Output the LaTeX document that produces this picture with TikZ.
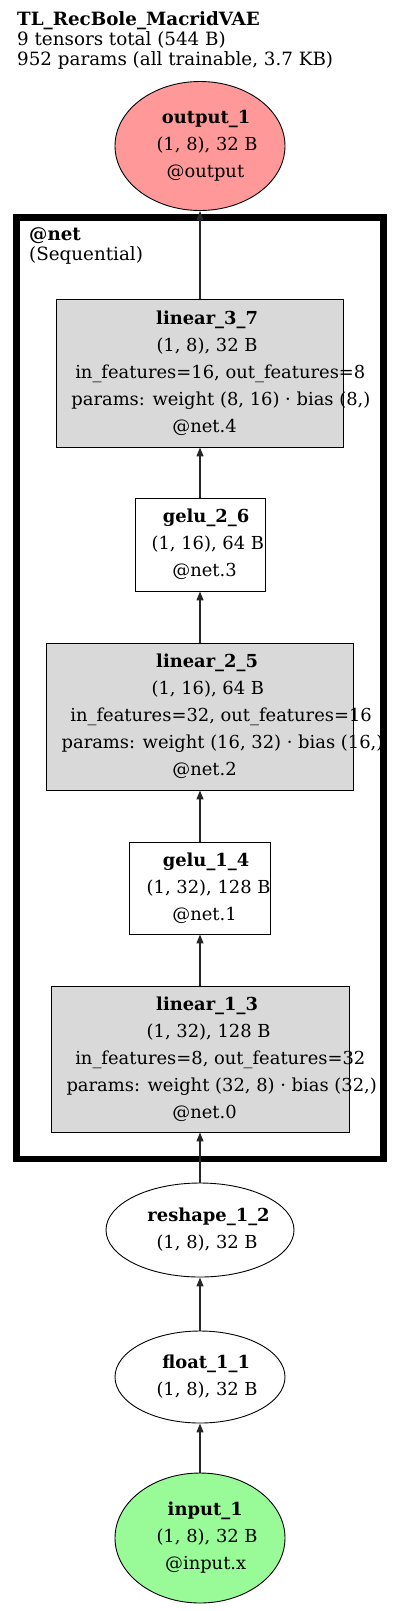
\documentclass[tikz,border=0pt]{standalone}
\usepackage{fontspec}
\setmainfont{DejaVu Serif}
\usetikzlibrary{shapes.geometric,arrows.meta}
\newcommand\gl[1]{\makebox[0.86\width][l]{#1}}
\definecolor{outred}{HTML}{FF9999}
\definecolor{ingreen}{HTML}{98FB98}
\definecolor{lingray}{HTML}{D9D9D9}
\begin{document}
\begin{tikzpicture}[x=1pt,y=-1pt,
  nodefont/.style={font=\fontsize{17.9}{27}\selectfont, align=center, inner sep=0pt},
  gvbox/.style={nodefont, rectangle, draw=black, line width=0.9pt},
  gvell/.style={nodefont, ellipse, draw=black, line width=0.9pt},
  linbox/.style={gvbox, fill=lingray},
  titletext/.style={anchor=base west, inner sep=0pt, font=\fontsize{18.3}{20}\selectfont},
  gvedge/.style={draw=black!85, line width=1.3pt, -{Triangle[length=9pt,width=7pt]}}
]
\useasboundingbox (0,0) rectangle (400,1611);
% title
\node[titletext] (t1) at (17,26) {\textbf{TL\_RecBole\_MacridVAE}};
\node[titletext] (t2) at (17,46) {9 tensors total (544 B)};
\node[titletext] (t3) at (17,66) {952 params (all trainable, 3.7 KB)};
% cluster
\node[draw=black, line width=6.5pt, minimum width=367pt, minimum height=941.5pt, inner sep=0pt] (net) at (200,688.25) {};
\node[titletext] (netl1) at (29,240) {\textbf{@net}};
\node[titletext] (netl2) at (29,260) {(Sequential)};
% nodes
\node[gvell, fill=outred, minimum width=170pt, minimum height=129pt] (out) at (200,146)
  {\gl{\textbf{output\_1}}\\\gl{(1, 8), 32 B}\\\gl{@output}};
\node[linbox, minimum width=287pt, minimum height=148pt] (l37) at (200,373)
  {\gl{\textbf{linear\_3\_7}}\\\gl{(1, 8), 32 B}\\\gl{in\_features=16, out\_features=8}\\\gl{params: weight (8, 16) · bias (8,)}\\\gl{@net.4}};
\node[gvbox, fill=white, minimum width=130pt, minimum height=93pt] (g26) at (200,544.5)
  {\gl{\textbf{gelu\_2\_6}}\\\gl{(1, 16), 64 B}\\\gl{@net.3}};
\node[linbox, minimum width=307pt, minimum height=147pt] (l25) at (200,716.5)
  {\gl{\textbf{linear\_2\_5}}\\\gl{(1, 16), 64 B}\\\gl{in\_features=32, out\_features=16}\\\gl{params: weight (16, 32) · bias (16,)}\\\gl{@net.2}};
\node[gvbox, fill=white, minimum width=141pt, minimum height=92pt] (g14) at (200,888)
  {\gl{\textbf{gelu\_1\_4}}\\\gl{(1, 32), 128 B}\\\gl{@net.1}};
\node[linbox, minimum width=298pt, minimum height=146pt] (l13) at (200,1059)
  {\gl{\textbf{linear\_1\_3}}\\\gl{(1, 32), 128 B}\\\gl{in\_features=8, out\_features=32}\\\gl{params: weight (32, 8) · bias (32,)}\\\gl{@net.0}};
\node[gvell, fill=white, minimum width=188pt, minimum height=94pt] (r12) at (200,1230)
  {\gl{\textbf{reshape\_1\_2}}\\\gl{(1, 8), 32 B}};
\node[gvell, fill=white, minimum width=170pt, minimum height=92pt] (f11) at (200,1377)
  {\gl{\textbf{float\_1\_1}}\\\gl{(1, 8), 32 B}};
\node[gvell, fill=ingreen, minimum width=170pt, minimum height=130pt] (in1) at (200,1538)
  {\gl{\textbf{input\_1}}\\\gl{(1, 8), 32 B}\\\gl{@input.x}};
% edges
\draw[gvedge] (in1) -- (f11);
\draw[gvedge] (f11) -- (r12);
\draw[gvedge] (r12) -- (l13);
\draw[gvedge] (l13) -- (g14);
\draw[gvedge] (g14) -- (l25);
\draw[gvedge] (l25) -- (g26);
\draw[gvedge] (g26) -- (l37);
\draw[gvedge] (l37) -- (out);
\end{tikzpicture}
\end{document}
